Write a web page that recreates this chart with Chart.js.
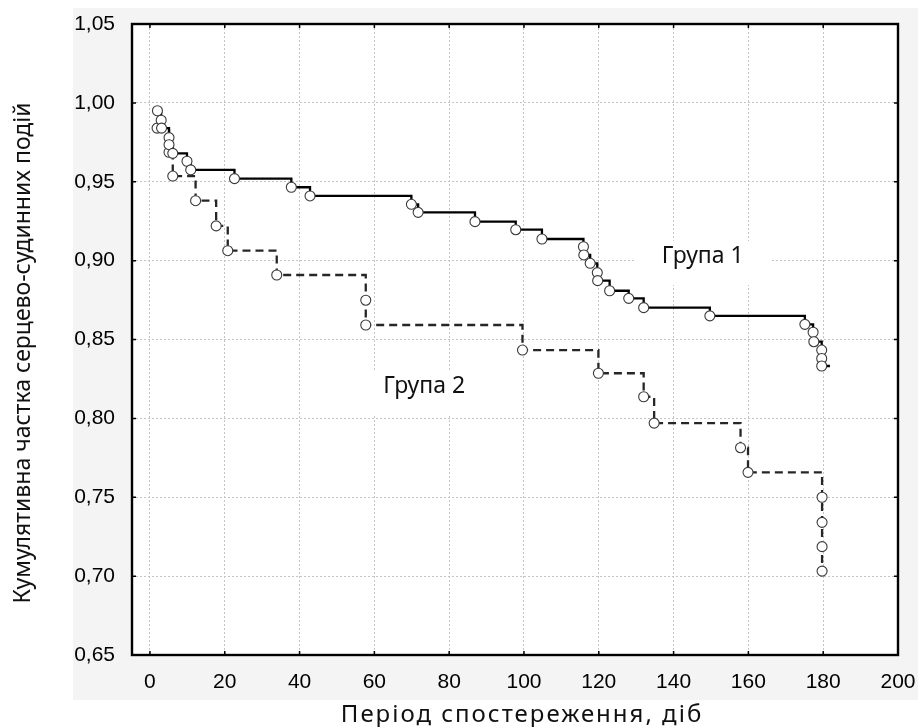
<!DOCTYPE html>
<html>
<head>
<meta charset="utf-8">
<script src="https://cdn.jsdelivr.net/npm/chart.js@4.4.1/dist/chart.umd.min.js"></script>
<style>
  html, body { margin: 0; padding: 0; background: #fff; }
  #wrap { width: 918px; height: 727px; }
</style>
</head>
<body>
<div id="wrap"><canvas id="kmChart" width="918" height="727"></canvas></div>
<script>
  // axis ticks
  const xTicks = [0, 20, 40, 60, 80, 100, 120, 140, 160, 180, 200];
  const yTicks = [0.65, 0.70, 0.75, 0.80, 0.85, 0.90, 0.95, 1.00, 1.05];
  const yTickLabels = ['0,65', '0,70', '0,75', '0,80', '0,85', '0,90', '0,95', '1,00', '1,05'];

  // Група 1 - days of events and cumulative share
  const group1Days = [2.0, 3.0, 3.1, 5.1, 5.1, 6.1, 9.9, 10.9, 22.6, 37.8, 42.8, 69.9, 71.7, 86.9, 97.8, 104.8,
    115.9, 116.0, 117.7, 119.6, 119.7, 122.9, 128.0, 132.0, 149.7, 175.1, 177.3, 177.5, 179.6, 179.6, 179.6];
  const group1Share = [0.995, 0.989, 0.984, 0.978, 0.9735, 0.968, 0.963, 0.9575, 0.952, 0.9465, 0.941, 0.9357, 0.9306, 0.9247, 0.9196, 0.9137,
    0.9088, 0.9036, 0.8983, 0.8924, 0.8873, 0.8809, 0.8761, 0.8702, 0.865, 0.8596, 0.8546, 0.8486, 0.8433, 0.838, 0.8332];
  const group1EndDay = 181.8;

  // Група 2
  const group2Days = [1.9, 5.1, 6.1, 12.2, 17.7, 20.8, 33.9, 57.7, 57.7, 99.6, 119.9, 132.0, 134.8, 157.9, 159.9,
    179.7, 179.7, 179.7, 179.7];
  const group2Share = [0.984, 0.9687, 0.9536, 0.938, 0.922, 0.9063, 0.8909, 0.8749, 0.8592, 0.8433, 0.8286, 0.8137, 0.797, 0.7814, 0.7658,
    0.75, 0.7341, 0.7187, 0.7032];
  const group2EndDay = 181.8;

  const groupNames = ['Група 1', 'Група 2'];
  const xTitle = 'Період спостереження, діб';
  const yTitle = 'Кумулятивна частка серцево-судинних подій';

  function toPoints(days, share) {
    return days.map((d, i) => ({ x: d, y: share[i] }));
  }
  function stepLine(days, share, endDay) {
    return toPoints(days, share).concat([{ x: endDay, y: share[share.length - 1] }]);
  }

  const tickFont = { family: '"Liberation Sans", Arial, sans-serif', size: 21 };

  // where the group names sit (day, share at baseline)
  const groupLabelSpots = [
    { text: groupNames[0], day: 147.8, share: 0.8985 },
    { text: groupNames[1], day: 73.3, share: 0.816 }
  ];

  const panelPlugin = {
    id: 'panel',
    beforeDraw(chart) {
      const { ctx, chartArea: a } = chart;
      ctx.save();
      ctx.fillStyle = '#f4f4f4';
      ctx.fillRect(73, 8, 845, 692);
      ctx.fillStyle = '#ffffff';
      ctx.fillRect(a.left, a.top, a.right - a.left, a.bottom - a.top);
      ctx.restore();
    },
    beforeDatasetsDraw(chart) {
      const { ctx, scales } = chart;
      ctx.save();
      ctx.font = '23px "Noto Sans", sans-serif';
      ctx.textAlign = 'center';
      ctx.textBaseline = 'alphabetic';
      groupLabelSpots.forEach(s => {
        const px = scales.x.getPixelForValue(s.day);
        const py = scales.y.getPixelForValue(s.share);
        const w = ctx.measureText(s.text).width + 56;
        ctx.fillStyle = '#ffffff';
        ctx.fillRect(px - w / 2, py - 22, w, 44);
        ctx.fillStyle = '#111111';
        ctx.fillText(s.text, px, py);
      });
      ctx.restore();
    },
    afterDraw(chart) {
      const { ctx, chartArea: a, scales } = chart;
      ctx.save();
      ctx.strokeStyle = '#000';
      ctx.lineWidth = 1.5;
      ctx.beginPath();
      xTicks.forEach(v => {
        const px = scales.x.getPixelForValue(v);
        ctx.moveTo(px, a.bottom); ctx.lineTo(px, a.bottom - 4);
        ctx.moveTo(px, a.top); ctx.lineTo(px, a.top + 4);
      });
      yTicks.forEach(v => {
        const py = scales.y.getPixelForValue(v);
        ctx.moveTo(a.left, py); ctx.lineTo(a.left + 4, py);
        ctx.moveTo(a.right, py); ctx.lineTo(a.right - 4, py);
      });
      ctx.stroke();
      ctx.lineWidth = 2.4;
      ctx.strokeRect(a.left, a.top, a.right - a.left, a.bottom - a.top);

      // axis titles
      ctx.fillStyle = '#111111';
      ctx.textAlign = 'center';
      ctx.textBaseline = 'alphabetic';
      ctx.font = '24px "Noto Sans", sans-serif';
      ctx.letterSpacing = '2px';
      ctx.fillText(xTitle, 522, 722);
      ctx.font = '23px "Noto Sans", sans-serif';
      ctx.letterSpacing = '0px';
      ctx.translate(30, 353);
      ctx.rotate(-Math.PI / 2);
      ctx.fillText(yTitle, 0, 0);
      ctx.restore();
    }
  };

  const ctx = document.getElementById('kmChart').getContext('2d');
  const kmChart = new Chart(ctx, {
    type: 'line',
    data: {
      datasets: [
        {
          label: groupNames[0],
          data: stepLine(group1Days, group1Share, group1EndDay),
          stepped: 'before',
          borderColor: '#000000',
          borderWidth: 2.3,
          pointRadius: 0,
          fill: false,
          order: 2
        },
        {
          label: groupNames[1],
          data: stepLine(group2Days, group2Share, group2EndDay),
          stepped: 'before',
          borderColor: '#262626',
          borderWidth: 2.3,
          borderDash: [8, 5],
          pointRadius: 0,
          fill: false,
          order: 2
        },
        {
          type: 'scatter',
          label: groupNames[0] + ' події',
          data: toPoints(group1Days, group1Share),
          pointRadius: 5,
          pointBackgroundColor: '#ffffff',
          pointBorderColor: '#3a3a3a',
          pointBorderWidth: 1.1,
          showLine: false,
          order: 1
        },
        {
          type: 'scatter',
          label: groupNames[1] + ' події',
          data: toPoints(group2Days, group2Share),
          pointRadius: 5,
          pointBackgroundColor: '#ffffff',
          pointBorderColor: '#3a3a3a',
          pointBorderWidth: 1.1,
          showLine: false,
          order: 1
        }
      ]
    },
    options: {
      responsive: false,
      animation: false,
      devicePixelRatio: 1,
      layout: { padding: { left: 0, top: 24, right: 20, bottom: 0 } },
      plugins: {
        legend: { display: false },
        tooltip: { enabled: false }
      },
      scales: {
        x: {
          type: 'linear',
          min: -4.8,
          max: 200,
          afterBuildTicks: (scale) => { scale.ticks = xTicks.map(v => ({ value: v })); },
          afterFit: (scale) => {
            scale.height = 72;
            scale.paddingLeft = 0;
            scale.paddingRight = 0;
          },
          ticks: {
            font: tickFont,
            color: '#000',
            padding: 15,
            maxRotation: 0,
            autoSkip: false
          },
          grid: { color: '#c4c4c4', lineWidth: 1, drawTicks: false },
          border: { display: false, dash: [2, 2] }
        },
        y: {
          type: 'linear',
          min: 0.65,
          max: 1.05,
          afterBuildTicks: (scale) => { scale.ticks = yTicks.map(v => ({ value: v })); },
          afterFit: (scale) => {
            scale.width = 132;
            scale.paddingTop = 0;
            scale.paddingBottom = 0;
          },
          ticks: {
            font: tickFont,
            color: '#000',
            padding: 17,
            autoSkip: false,
            callback: (value) => {
              const i = yTicks.findIndex(t => Math.abs(t - value) < 1e-6);
              return i >= 0 ? yTickLabels[i] : '';
            }
          },
          grid: { color: '#c4c4c4', lineWidth: 1, drawTicks: false },
          border: { display: false, dash: [2, 2] }
        }
      }
    },
    plugins: [panelPlugin]
  });
</script>
</body>
</html>
